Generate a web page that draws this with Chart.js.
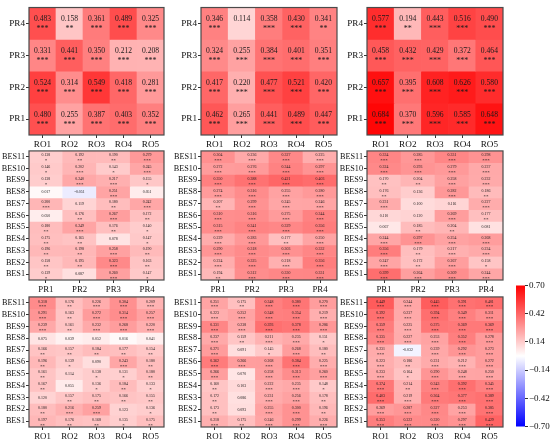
<!DOCTYPE html>
<html><head><meta charset="utf-8">
<script src="https://cdn.jsdelivr.net/npm/chart.js@4.4.1/dist/chart.umd.min.js"></script>
<style>
html,body{margin:0;padding:0;background:#fff;width:550px;height:440px;overflow:hidden;position:relative}
.w{position:absolute}
</style></head><body>
<script>
// ---- data ----
const rowsPR = ['PR4','PR3','PR2','PR1'];
const colsRO = ['RO1','RO2','RO3','RO4','RO5'];
const rowsBES = ['BES11','BES10','BES9','BES8','BES7','BES6','BES5','BES4','BES3','BES2','BES1'];
const colsPR = ['PR1','PR2','PR3','PR4'];
const colorTicks = [0.70,0.42,0.14,-0.14,-0.42,-0.70];

const valsTL = [[0.483,0.158,0.361,0.489,0.325],[0.331,0.441,0.350,0.212,0.208],[0.524,0.314,0.549,0.418,0.281],[0.480,0.255,0.387,0.403,0.352]];
const sigTL  = [[3,2,3,3,3],[3,3,3,3,3],[3,3,3,3,3],[3,3,3,3,3]];
const valsTM = [[0.346,0.114,0.358,0.430,0.341],[0.324,0.255,0.384,0.401,0.351],[0.417,0.220,0.477,0.521,0.420],[0.462,0.265,0.441,0.489,0.447]];
const sigTM  = [[3,0,3,3,2],[3,3,3,3,3],[3,3,3,3,3],[3,3,3,3,3]];
const valsTR = [[0.577,0.194,0.443,0.516,0.490],[0.458,0.432,0.429,0.372,0.464],[0.657,0.395,0.608,0.626,0.580],[0.684,0.370,0.596,0.585,0.648]];
const sigTR  = [[3,2,3,3,3],[3,3,3,3,3],[3,3,3,3,3],[3,3,3,3,3]];

const valsML = [[0.138,0.192,0.190,0.279],[0.146,0.202,0.143,0.245],[0.138,0.240,0.217,0.155],[0.017,-0.051,0.251,0.051],[0.200,0.119,0.180,0.242],[0.050,0.176,0.267,0.172],[0.180,0.249,0.176,0.140],[0.175,0.165,0.078,0.147],[0.196,0.198,0.258,0.190],[0.158,0.195,0.323,0.163],[0.139,0.087,0.260,0.147]];
const sigML  = [[1,2,2,3],[1,3,1,3],[1,3,3,1],[0,0,3,0],[3,0,2,3],[0,2,3,2],[2,3,2,1],[2,2,0,1],[2,2,3,2],[2,2,3,2],[1,0,3,1]];
const valsMM = [[0.304,0.236,0.327,0.225],[0.272,0.276,0.344,0.297],[0.350,0.388,0.421,0.403],[0.274,0.316,0.255,0.280],[0.207,0.299,0.245,0.246],[0.310,0.316,0.275,0.344],[0.315,0.341,0.329,0.356],[0.229,0.283,0.177,0.250],[0.290,0.318,0.303,0.332],[0.224,0.325,0.218,0.356],[0.194,0.312,0.330,0.331]];
const sigMM  = [[3,3,3,3],[3,3,3,3],[3,3,3,3],[3,3,3,3],[2,3,3,3],[3,3,3,3],[3,3,3,3],[3,3,2,3],[3,3,3,3],[3,3,3,3],[2,3,3,3]];
const valsMR = [[0.334,0.285,0.331,0.298],[0.324,0.293,0.279,0.237],[0.170,0.204,0.258,0.232],[0.176,0.136,0.282,0.186],[0.231,0.100,0.116,0.227],[0.110,0.120,0.269,0.177],[0.067,0.185,0.204,0.081],[0.244,0.297,0.254,0.268],[0.356,0.179,0.217,0.234],[0.247,0.172,0.267,0.158],[0.399,0.264,0.309,0.244]];
const sigMR  = [[3,3,3,3],[3,3,3,3],[2,2,3,3],[2,0,3,2],[3,0,0,3],[0,0,3,2],[0,2,2,0],[3,3,3,3],[3,2,3,3],[3,2,3,1],[3,3,3,3]];

const valsBL = [[0.318,0.176,0.226,0.304,0.209],[0.291,0.163,0.272,0.314,0.257],[0.239,0.161,0.232,0.268,0.220],[0.075,0.039,0.052,0.016,0.041],[0.166,0.157,0.184,0.177,0.154],[0.196,0.139,0.090,0.243,0.180],[0.161,0.114,0.138,0.131,0.180],[0.167,0.055,0.136,0.184,0.133],[0.120,0.157,0.175,0.166,0.155],[0.180,0.216,0.259,0.123,0.136],[0.197,0.176,0.168,0.135,0.175]];
const sigBL  = [[3,2,3,3,3],[3,2,3,3,3],[3,2,3,3,3],[0,0,0,0,0],[2,2,2,2,2],[2,1,0,3,2],[2,0,1,1,2],[2,0,1,2,1],[0,2,2,2,2],[2,3,3,0,1],[2,2,2,1,2]];
const valsBM = [[0.251,0.175,0.348,0.380,0.270],[0.223,0.252,0.348,0.354,0.219],[0.331,0.238,0.393,0.378,0.286],[0.237,0.159,0.211,0.235,0.151],[0.271,0.091,0.145,0.268,0.180],[0.362,0.266,0.268,0.384,0.225],[0.266,0.070,0.258,0.313,0.260],[0.160,0.103,0.222,0.235,0.148],[0.172,0.086,0.231,0.256,0.178],[0.173,0.093,0.255,0.300,0.196],[0.218,0.175,0.246,0.299,0.226]];
const sigBM  = [[3,2,3,3,3],[3,3,3,3,3],[3,3,3,3,3],[3,2,3,3,1],[3,0,1,3,2],[3,3,3,3,3],[3,0,3,3,3],[2,0,3,3,1],[2,0,3,3,2],[2,0,3,3,2],[3,2,3,3,3]];
const valsBR = [[0.449,0.244,0.445,0.391,0.401],[0.392,0.237,0.394,0.349,0.311],[0.359,0.225,0.375,0.369,0.369],[0.335,0.227,0.253,0.352,0.278],[0.231,-0.032,0.239,0.292,0.273],[0.223,0.186,0.231,0.212,0.272],[0.233,0.164,0.290,0.248,0.250],[0.374,0.214,0.343,0.392,0.345],[0.403,0.219,0.364,0.377,0.389],[0.269,0.287,0.327,0.253,0.385],[0.353,0.322,0.320,0.297,0.429]];
const sigBR  = [[3,3,3,3,3],[3,3,3,3,3],[3,3,3,3,3],[3,3,3,3,3],[3,0,3,3,3],[3,2,3,3,3],[3,1,3,3,3],[3,2,3,3,3],[3,3,3,3,3],[3,3,3,3,3],[3,3,3,3,3]];

// ---- rendering ----
const FONT = "'Liberation Serif','Times New Roman',serif";
const VMIN = -0.7, VMAX = 0.7;
function bwr(v){
  let t = (v - VMIN) / (VMAX - VMIN); t = Math.max(0, Math.min(1, t));
  let r, g, b;
  if (t < 0.5) { r = g = Math.round(255 * 2 * t); b = 255; }
  else { r = 255; g = b = Math.round(255 * 2 * (1 - t)); }
  return `rgb(${r},${g},${b})`;
}

function makeWrap(left, top, w, h){
  const d = document.createElement('div');
  d.className = 'w';
  d.style.left = left + 'px'; d.style.top = top + 'px';
  d.style.width = w + 'px'; d.style.height = h + 'px';
  const c = document.createElement('canvas');
  c.width = w; c.height = h;
  c.style.width = w + 'px'; c.style.height = h + 'px';
  d.appendChild(c);
  document.body.appendChild(d);
  return c;
}

function makePanel(rect, rowLabels, colLabels, vals, sig, big){
  const [L, T, R, B] = rect;
  const padL = 45, padT = 4, padR = 4, padB = 22;
  const w = R - L + padL + padR, h = B - T + padT + padB;
  const cv = makeWrap(L - padL, T - padT, w, h);
  const n = rowLabels.length;
  const yFont = big ? 9.2 : 8.2;
  const xFont = big ? 9.2 : 8.8;
  const datasets = vals.map((row, i) => {
    const y = n - 1 - i;
    return {
      data: row.map(() => [y - 0.5, y + 0.5]),
      backgroundColor: row.map(bwr),
      borderWidth: 0,
      barPercentage: 1, categoryPercentage: 1, grouped: false
    };
  });
  const textPlugin = {
    id: 'cellText',
    afterDatasetsDraw(chart){
      const ctx = chart.ctx, xs = chart.scales.x, ys = chart.scales.y;
      ctx.save();
      ctx.fillStyle = '#1a1a1a';
      ctx.textAlign = 'center';
      ctx.textBaseline = 'alphabetic';
      vals.forEach((row, i) => {
        const cy = ys.getPixelForValue(n - 1 - i);
        row.forEach((v, j) => {
          const cx = xs.getPixelForValue(j);
          const s = sig[i][j];
          const txt = v.toFixed(3);
          if (big) {
            ctx.font = `7.6px ${FONT}`;
            ctx.fillText(txt, cx, cy - 2);
            if (s) { ctx.font = `8px ${FONT}`; ctx.fillText('*'.repeat(s), cx, cy + 8); }
          } else {
            ctx.font = `3.9px ${FONT}`;
            if (s) {
              ctx.fillText(txt, cx, cy - 0.3);
              ctx.font = `5px ${FONT}`; ctx.fillText('*'.repeat(s), cx, cy + 5.6);
            } else {
              ctx.fillText(txt, cx, cy + 1.3);
            }
          }
        });
      });
      ctx.restore();
    },
    afterDraw(chart){
      const ctx = chart.ctx, a = chart.chartArea;
      ctx.save();
      ctx.strokeStyle = '#4a4a4a'; ctx.lineWidth = 1.2;
      ctx.strokeRect(a.left, a.top, a.right - a.left, a.bottom - a.top);
      ctx.restore();
    }
  };
  new Chart(cv, {
    type: 'bar',
    data: { labels: colLabels, datasets },
    options: {
      responsive: false, animation: false,
      layout: { padding: { left: 0, top: padT, right: padR, bottom: 0 } },
      plugins: { legend: { display: false }, tooltip: { enabled: false } },
      scales: {
        x: {
          offset: true,
          grid: { offset: false, drawOnChartArea: false, drawTicks: true, tickLength: 3, color: '#333' },
          border: { display: false },
          ticks: { color: '#111', font: { family: FONT, size: xFont }, padding: 1, maxRotation: 0, autoSkip: false },
          afterFit: s => { s.height = padB; }
        },
        y: {
          type: 'linear', min: -0.5, max: n - 0.5,
          afterBuildTicks: s => { s.ticks = rowLabels.map((_, k) => ({ value: k })); },
          grid: { drawOnChartArea: false, drawTicks: true, tickLength: 3, color: '#333' },
          border: { display: false },
          ticks: { color: '#111', font: { family: FONT, size: yFont }, padding: 1, autoSkip: false,
                   callback: v => rowLabels[n - 1 - Math.round(v)] },
          afterFit: s => { s.width = padL; }
        }
      }
    },
    plugins: [textPlugin]
  });
}

const colX = [[29,164],[201,337],[367,503]];
const rowY = [[5,135],[149,280],[295,427]];
function rc(r, c){ return [colX[c][0], rowY[r][0], colX[c][1], rowY[r][1]]; }

makePanel(rc(0,0), rowsPR, colsRO, valsTL, sigTL, true);
makePanel(rc(0,1), rowsPR, colsRO, valsTM, sigTM, true);
makePanel(rc(0,2), rowsPR, colsRO, valsTR, sigTR, true);
makePanel(rc(1,0), rowsBES, colsPR, valsML, sigML, false);
makePanel(rc(1,1), rowsBES, colsPR, valsMM, sigMM, false);
makePanel(rc(1,2), rowsBES, colsPR, valsMR, sigMR, false);
makePanel(rc(2,0), rowsBES, colsRO, valsBL, sigBL, false);
makePanel(rc(2,1), rowsBES, colsRO, valsBM, sigBM, false);
makePanel(rc(2,2), rowsBES, colsRO, valsBR, sigBR, false);

// ---- colorbar ----
(function(){
  const L = 516, R = 525, T = 284, B = 427;
  const padT = 5, padB = 6, axW = 30;
  const w = R - L + axW, h = B - T + padT + padB;
  const cv = makeWrap(L, T - padT, w, h);
  new Chart(cv, {
    type: 'bar',
    data: { labels: ['cb'], datasets: [{
      data: [[VMIN, VMAX]], borderWidth: 0, barPercentage: 1, categoryPercentage: 1,
      backgroundColor: (c) => {
        const a = c.chart.chartArea; if (!a) return '#fff';
        const ys = c.chart.scales.y;
        const g = c.chart.ctx.createLinearGradient(0, ys.getPixelForValue(VMIN), 0, ys.getPixelForValue(VMAX));
        g.addColorStop(0, bwr(VMIN)); g.addColorStop(0.5, bwr(0)); g.addColorStop(1, bwr(VMAX));
        return g;
      }
    }]},
    options: {
      responsive: false, animation: false,
      layout: { padding: { left: 0, top: padT, right: 0, bottom: padB } },
      plugins: { legend: { display: false }, tooltip: { enabled: false } },
      scales: {
        x: { display: false },
        y: {
          type: 'linear', position: 'right', min: VMIN, max: VMAX,
          afterBuildTicks: s => { s.ticks = colorTicks.map(v => ({ value: v })); },
          grid: { drawOnChartArea: false, drawTicks: true, tickLength: 3, color: '#333' },
          border: { display: false },
          ticks: { color: '#111', font: { family: FONT, size: 9 }, padding: 1, autoSkip: false,
                   callback: v => (v < 0 ? '\u2212' : '') + Math.abs(v).toFixed(2) },
          afterFit: s => { s.width = axW; }
        }
      }
    }
  });
})();
</script>
</body></html>
